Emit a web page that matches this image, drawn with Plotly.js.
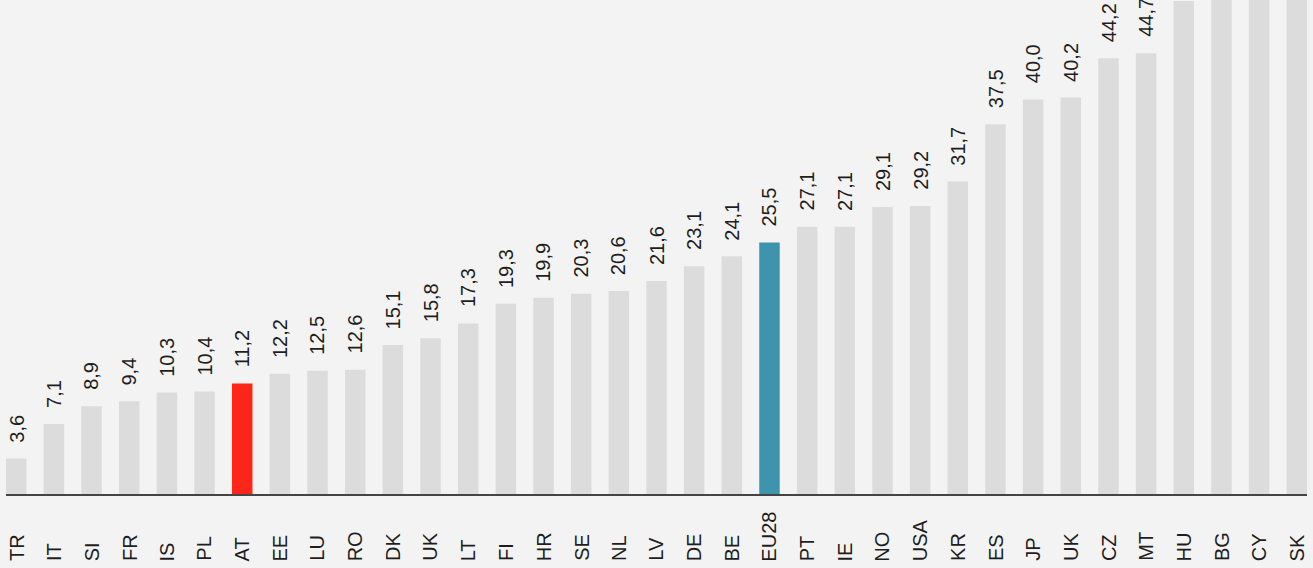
<!DOCTYPE html>
<html>
<head>
<meta charset="utf-8">
<script src="https://cdn.plot.ly/plotly-3.0.1.min.js"></script>
<style>
  html, body { margin: 0; padding: 0; background: #f3f3f3; }
  #chart { width: 1313px; height: 568px; }
</style>
</head>
<body>
<div id="chart"></div>
<script>
const categories = ["TR","IT","SI","FR","IS","PL","AT","EE","LU","RO","DK","UK","LT","FI","HR","SE","NL","LV","DE","BE","EU28","PT","IE","NO","USA","KR","ES","JP","UK","CZ","MT","HU","BG","CY","SK"];
const values = [3.6,7.1,8.9,9.4,10.3,10.4,11.2,12.2,12.5,12.6,15.1,15.8,17.3,19.3,19.9,20.3,20.6,21.6,23.1,24.1,25.5,27.1,27.1,29.1,29.2,31.7,37.5,40.0,40.2,44.2,44.7,50.0,52.0,55.0,58.0];
const highlightRed = "AT";
const highlightTeal = "EU28";

const xs = categories.map((c, i) => i);
const colors = categories.map(c => c === highlightRed ? "#ff2619" : (c === highlightTeal ? "#3e94ad" : "#dcdcdc"));
const fmt = v => v.toFixed(1).replace(".", ",");

const font = { family: "Liberation Sans, Arial, sans-serif", size: 20, color: "#1e1e1e" };

const annotations = [];
categories.forEach((c, i) => {
  annotations.push({
    x: i, y: values[i], xref: "x", yref: "y",
    text: fmt(values[i]), textangle: -90, showarrow: false,
    xanchor: "center", yanchor: "bottom", yshift: 14, font: font
  });
  annotations.push({
    x: i, y: -0.14, xref: "x", yref: "paper",
    text: c, textangle: -90, showarrow: false,
    xanchor: "center", yanchor: "bottom", font: font
  });
});

const data = [{
  type: "bar", x: xs, y: values,
  marker: { color: colors, line: { width: 0 } },
  hoverinfo: "skip"
}];

const layout = {
  width: 1313, height: 568,
  margin: { l: 6, r: 6, t: 0, b: 74, pad: 0 },
  paper_bgcolor: "#f3f3f3", plot_bgcolor: "#f3f3f3",
  bargap: 0.456,
  showlegend: false,
  xaxis: { range: [-0.272, 34.272], showticklabels: false, ticks: "", showgrid: false, zeroline: false, showline: true, linecolor: "#444444", linewidth: 2, fixedrange: true },
  yaxis: { range: [0, 50.1], showticklabels: false, ticks: "", showgrid: false, zeroline: false, showline: false, fixedrange: true },
  annotations: annotations,
  font: font
};

Plotly.newPlot("chart", data, layout, { displayModeBar: false, staticPlot: true });
</script>
</body>
</html>
